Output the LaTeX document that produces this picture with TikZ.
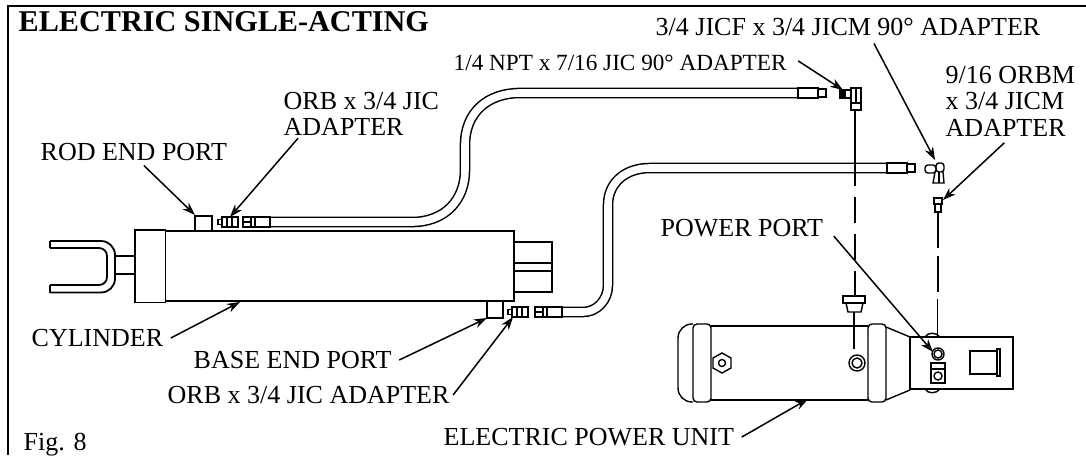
\documentclass[tikz,border=0pt]{standalone}
\usepackage{fontspec}
\setmainfont{Liberation Serif}
\usetikzlibrary{arrows.meta}

\tikzset{
  lbl/.style={anchor=base west, inner sep=0pt, align=left, font=\fontsize{13}{13.2}\selectfont},
  callout/.style={line width=.75pt, -{Stealth[length=6.5pt,width=4.5pt,fill=black!75]}},
  hose/.style={double=white, double distance=3.8pt, line width=.75pt},
  dashline/.style={line width=.8pt},
  adapter/.pic={
    \draw (0,-2.5) rectangle (4,2.5);
    \draw (4,-5) rectangle (14,5);
    \draw (9,-5) -- (9,5);
    \draw[line width=.9pt] (14,-5) rectangle (20,5);
  },
  hosefit/.pic={
    \draw (0,-5) rectangle (8,5);
    \draw (0,0) -- (8,0);
    \draw (8,-5) rectangle (12,5);
    \draw[fill=white] (12,-5) rectangle (27,5);
  },
  hoseend/.pic={
    \draw[fill=white] (0,-5) rectangle (20,5);
    \draw (20,-4) rectangle (28,4);
  }
}

\begin{document}
\begin{tikzpicture}[x=.5pt, y=-.5pt, line width=.7pt]
\useasboundingbox (0,0) rectangle (1086,455);

% frame
\draw[line width=1.2pt] (8,455) -- (8,6) -- (1086,6);

% cylinder
\draw (165,231) rectangle (514,301);
\draw[fill=white] (135,230) rectangle (165.5,302.5);
\draw (115,256) rectangle (135,274);
\draw[line width=.9pt, rounded corners=7pt] (50,241) -- (115,241) -- (115,292.5) -- (50,292.5);
\draw[line width=.9pt, rounded corners=4pt] (50,248) -- (107,248) -- (107,285) -- (50,285);
\draw (50,241) -- (50,248);
\draw (50,285) -- (50,292.5);

% rod end and base end
\draw (514,242) rectangle (552,292);
\draw[line width=.9pt] (514,263) -- (552,263);
\draw[line width=.9pt] (514,271) -- (552,271);
\draw (195,216) rectangle (212,231);
\draw (487,301) rectangle (503,318);

% hoses
\draw[hose] (270,222) -- (412,222) .. controls (445,222) and (465,200) .. (465,170) -- (465,145) .. controls (465,112) and (488,93) .. (520,93) -- (798,93);
\draw[hose] (562,312) -- (583,312) .. controls (597,312) and (608,300) .. (608,285) -- (608,205) .. controls (608,183) and (625,168) .. (650,168) -- (887,168);

% fittings
\pic at (218,222) {adapter};
\pic at (243,222) {hosefit};
\pic at (508,312) {adapter};
\pic at (535,312) {hosefit};
\pic at (798,93) {hoseend};
\pic at (887,168) {hoseend};

% elbow 1/4 NPT
\draw[fill=black] (840,90) rectangle (845,98);
\draw (845,90) rectangle (851,98);
\draw (851,88) rectangle (861,103);
\draw (856,88) -- (856,103);
\draw[line width=.9pt] (851,103) rectangle (861,110);

% elbow 3/4 JICF
\draw[rounded corners=1.5pt] (925,165) rectangle (936,173);
\draw[rounded corners=1.5pt] (936,163) rectangle (944,172);
\draw (935,172) -- (933,183) -- (944,183) -- (943,172);
\draw (939,172) -- (939,183);

% adapter 9/16 ORBM
\draw (934,198) rectangle (942,204);
\draw (935,204) rectangle (941,212);

% dashed lines down to the unit
\draw[dashline] (855,110) -- (855,186);
\draw[dashline, dash pattern=on 13pt off 5.5pt] (855,197) -- (855,297);
\draw[dashline] (854,312) -- (854,349);
\draw[dashline, dash pattern=on 18pt off 4pt] (938,212) -- (938,292);
\draw[dashline] (937.5,299) -- (937.5,353);

% plug
\draw (843,296) rectangle (865,303);
\draw (846,303) -- (848,312) -- (861,312) -- (863,303);

% tank
\draw[rounded corners=7pt] (693,324) -- (678,324) -- (678,402) -- (693,402);
\draw[rounded corners=2pt] (693,324) rectangle (711,402);
\draw (711,326) -- (868,326);
\draw (711,400) -- (868,400);
\draw[rounded corners=2pt] (868,324) rectangle (886,402);
\draw (886,327) -- (910,337);
\draw (886,400) -- (910,390);
\draw (722,353) -- (731,358) -- (731,368) -- (722,373) -- (713,368) -- (713,358) -- cycle;
\draw (722,363) circle[radius=3.5];
\draw (857,363) circle[radius=8];
\draw (857,363) circle[radius=5];

% control box
\draw (925,337) .. controls (928,332) and (936,332) .. (940,337);
\draw (925,389) .. controls (928,394) and (936,394) .. (940,389);
\draw[fill=white] (910,337) rectangle (1013,389);
\draw (970,351) rectangle (997,374);
\draw (997,349) rectangle (1000,376);
\draw (938,354) circle[radius=6];
\draw (938,354) circle[radius=4];
\draw[line width=.9pt] (931,363) rectangle (945,383);
\draw (931,369) -- (945,369);
\draw (938,376) circle[radius=4];

% labels
\node[lbl, font=\fontsize{15.1}{15}\selectfont\bfseries] (title) at (18,32) {ELECTRIC SINGLE-ACTING};
\node[lbl] (jicf) at (655,35.5) {3/4 JICF x 3/4 JICM 90° ADAPTER};
\node[lbl, font=\fontsize{11.6}{13.2}\selectfont] (npt) at (453,70.5) {1/4 NPT x 7/16 JIC 90° ADAPTER};
\node[lbl] (orbm) at (945,136) {9/16 ORBM\\x 3/4 JICM\\ADAPTER};
\node[lbl] (orbtop) at (283,135.5) {ORB x 3/4 JIC\\ADAPTER};
\node[lbl] (rodport) at (40,160.5) {ROD END PORT};
\node[lbl] (powerport) at (660,236.5) {POWER PORT};
\node[lbl] (cyl) at (31,346.5) {CYLINDER};
\node[lbl] (baseport) at (193,368.5) {BASE END PORT};
\node[lbl] (orblow) at (167,403.5) {ORB x 3/4 JIC ADAPTER};
\node[lbl] (unit) at (443,445.5) {ELECTRIC POWER UNIT};
\node[lbl] (fig) at (23,450) {Fig. 8};

% arrow tips
\coordinate (jicftip) at (935,160);
\coordinate (npttip) at (843,90);
\coordinate (orbmtip) at (943,200);
\coordinate (orbtoptip) at (230,217);
\coordinate (rodtip) at (195,215);
\coordinate (porttip) at (933,352);
\coordinate (cyltip) at (240,302);
\coordinate (basetip) at (487,318);
\coordinate (orblowtip) at (513,317);
\coordinate (unittip) at (808,399);

% arrows
\draw[callout] ([xshift=13pt,yshift=-3.5pt]jicf.south) -- (jicftip);
\draw[callout] ([xshift=5.5pt,yshift=1pt]npt.east) -- (npttip);
\draw[callout] ([xshift=-3pt,yshift=-3pt]orbm.south) -- (orbmtip);
\draw[callout] ([xshift=7.5pt,yshift=-1pt]orbtop.south west) -- (orbtoptip);
\draw[callout] ([xshift=5pt,yshift=-2pt]rodport.south) -- (rodtip);
\draw[callout] ([xshift=5pt,yshift=-4pt]powerport.east) -- (porttip);
\draw[callout] ([xshift=3.5pt]cyl.east) -- (cyltip);
\draw[callout] ([xshift=3.5pt]baseport.east) -- (basetip);
\draw[callout] ([xshift=1.5pt]orblow.east) -- (orblowtip);
\draw[callout] ([xshift=3.5pt]unit.east) -- (unittip);

\end{tikzpicture}
\end{document}
